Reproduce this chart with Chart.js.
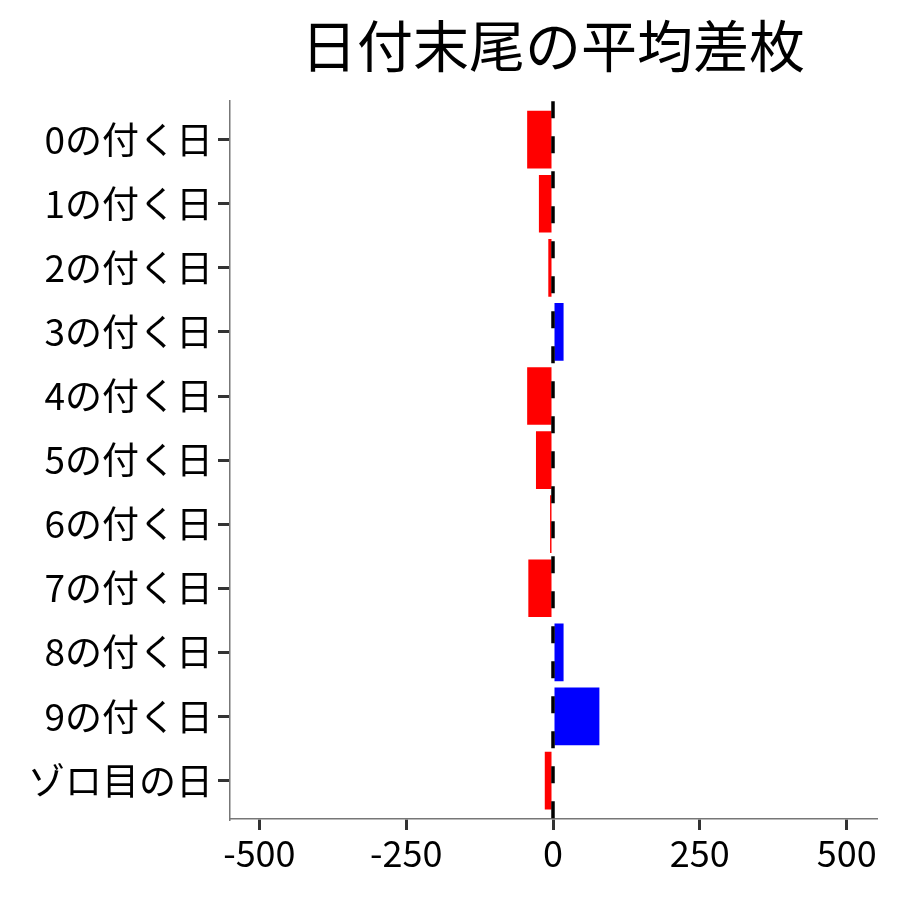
<!DOCTYPE html>
<html>
<head>
<meta charset="utf-8">
<script src="https://cdn.jsdelivr.net/npm/chart.js@4/dist/chart.umd.min.js"></script>
<style>
  html, body { margin: 0; padding: 0; background: #fff; }
  #wrap { width: 900px; height: 900px; }
</style>
</head>
<body>
<div id="wrap"><canvas id="myChart" width="900" height="900"></canvas></div>
<script>
const days = ['0の付く日', '1の付く日', '2の付く日', '3の付く日', '4の付く日', '5の付く日',
              '6の付く日', '7の付く日', '8の付く日', '9の付く日', 'ゾロ目の日'];
const diffs = [-44, -24, -8, 18, -44, -29, -5, -42, 18, 79, -14];
const xTicks = [-500, -250, 0, 250, 500];

const fontName = '"Noto Sans CJK JP", "Noto Sans", sans-serif';

// dashed line at zero, drawn over the bars
const zeroLine = {
    id: 'zeroLine',
    afterDatasetsDraw(chart) {
        const ctx = chart.ctx;
        const x = chart.scales.x.getPixelForValue(0);
        const area = chart.chartArea;
        ctx.save();
        ctx.strokeStyle = '#000';
        ctx.lineWidth = 3.5;
        ctx.setLineDash([17, 18]);
        ctx.beginPath();
        ctx.moveTo(x, area.top);
        ctx.lineTo(x, area.bottom);
        ctx.stroke();
        ctx.restore();
    }
};

const ctx = document.getElementById('myChart').getContext('2d');

// y is a numeric index so the ends can get ggplot-like 0.6 padding
const myChart = new Chart(ctx, {
    type: 'bar',
    data: {
        datasets: [{
            data: diffs.map((v, i) => ({ x: v, y: i })),
            backgroundColor: diffs.map(v => v < 0 ? '#FF0000' : '#0000FF'),
            borderWidth: 0,
            categoryPercentage: 0.9,
            barPercentage: 1.0
        }]
    },
    options: {
        indexAxis: 'y',
        responsive: false,
        animation: false,
        layout: { padding: { left: 10, right: 24, top: 10, bottom: 10 } },
        plugins: {
            legend: { display: false },
            tooltip: { enabled: false },
            title: {
                display: true,
                fullSize: false,
                text: '日付末尾の平均差枚',
                color: '#000',
                font: { family: fontName, size: 56, weight: 'normal' },
                padding: { top: 2, bottom: 22 }
            }
        },
        scales: {
            x: {
                type: 'linear',
                min: -550,
                max: 550,
                afterBuildTicks: (scale) => { scale.ticks = xTicks.map(v => ({ value: v })); },
                afterFit: (scale) => { scale.height = 71; },
                grid: {
                    display: true,
                    drawOnChartArea: false,
                    drawTicks: true,
                    tickLength: 11,
                    color: '#333',
                    lineWidth: 3
                },
                border: { display: true, color: '#777', width: 1.5 },
                ticks: {
                    color: '#000',
                    padding: 2,
                    font: { family: fontName, size: 36 }
                }
            },
            y: {
                type: 'linear',
                reverse: true,
                min: -0.6,
                max: days.length - 0.4,
                offset: false,
                afterBuildTicks: (scale) => { scale.ticks = days.map((d, i) => ({ value: i })); },
                afterFit: (scale) => { scale.width = 220; },
                grid: {
                    display: true,
                    offset: false,
                    drawOnChartArea: false,
                    drawTicks: true,
                    tickLength: 12,
                    color: '#333',
                    lineWidth: 3
                },
                border: { display: true, color: '#777', width: 1.5 },
                ticks: {
                    color: '#000',
                    padding: 5,
                    font: { family: fontName, size: 37 },
                    callback: (v) => days[v]
                }
            }
        }
    },
    plugins: [zeroLine]
});
</script>
</body>
</html>
